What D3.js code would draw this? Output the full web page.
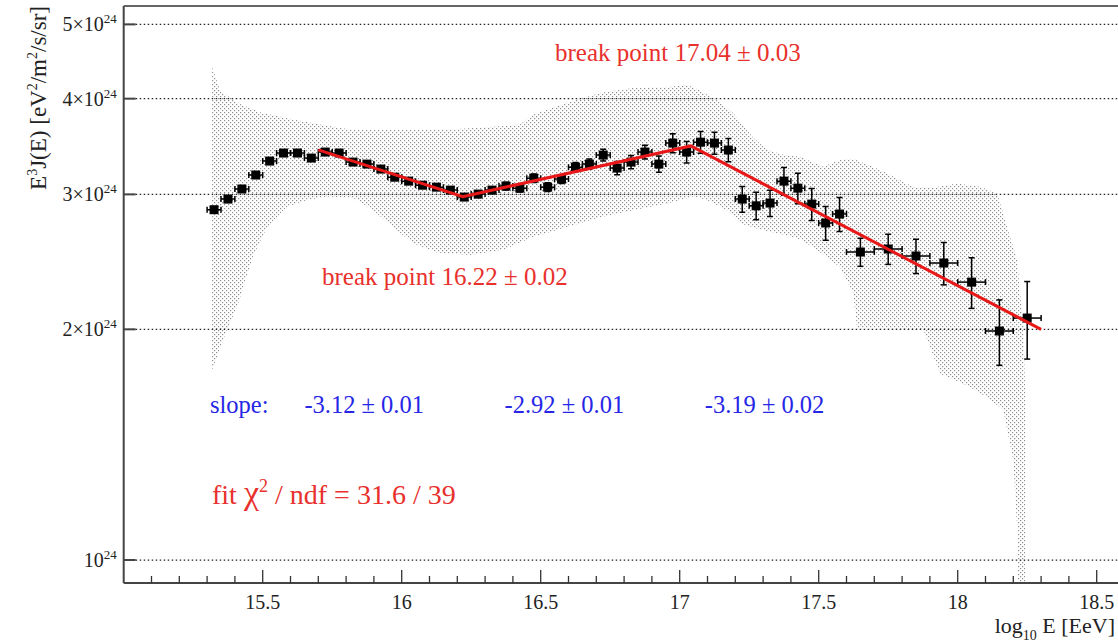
<!DOCTYPE html>
<html>
<head>
<meta charset="utf-8">
<script src="https://cdn.jsdelivr.net/npm/d3@7"></script>
<style>
  body { margin: 0; background: #fff; }
  text { font-family: "Liberation Serif", "DejaVu Serif", serif; }
</style>
</head>
<body>
<svg id="chart" width="1118" height="643"></svg>
<script>
// ====== Energy spectrum E^3 J(E) with broken power-law fit ======
// flux values are in units of 1e24 eV^2 m^-2 s^-1 sr^-1

const logE = [15.325, 15.375, 15.425, 15.475, 15.525, 15.575, 15.625, 15.675, 15.725, 15.775,
              15.825, 15.875, 15.925, 15.975, 16.025, 16.075, 16.125, 16.175, 16.225, 16.275,
              16.325, 16.375, 16.425, 16.475, 16.525, 16.575, 16.625, 16.675, 16.725, 16.775,
              16.825, 16.875, 16.925, 16.975, 17.025, 17.075, 17.125, 17.175, 17.225, 17.275,
              17.325, 17.375, 17.425, 17.475, 17.525, 17.575,
              17.65, 17.75, 17.85, 17.95, 18.05, 18.15, 18.25];
const flux = [2.865, 2.958, 3.049, 3.180, 3.316, 3.397, 3.397, 3.346, 3.407, 3.397,
              3.306, 3.286, 3.237, 3.159, 3.122, 3.084, 3.066, 3.039, 2.976, 3.003,
              3.039, 3.076, 3.057, 3.150, 3.066, 3.141, 3.256, 3.286, 3.376, 3.247,
              3.306, 3.407, 3.286, 3.500, 3.407, 3.510, 3.500, 3.428, 2.958, 2.899,
              2.923, 3.122, 3.057, 2.914, 2.753, 2.828,
              2.523, 2.546, 2.493, 2.441, 2.305, 1.990, 2.069];
const fluxErr = [0.012, 0.012, 0.012, 0.012, 0.012, 0.012, 0.012, 0.012, 0.012, 0.012,
                 0.015, 0.015, 0.015, 0.015, 0.02, 0.02, 0.02, 0.025, 0.025, 0.03,
                 0.03, 0.035, 0.035, 0.04, 0.04, 0.04, 0.045, 0.05, 0.06, 0.065,
                 0.065, 0.07, 0.08, 0.10, 0.11, 0.115, 0.115, 0.12, 0.115, 0.12,
                 0.115, 0.13, 0.14, 0.14, 0.14, 0.145,
                 0.106, 0.115, 0.128, 0.155, 0.175, 0.195, 0.24];
const logEErr = [0.025, 0.025, 0.025, 0.025, 0.025, 0.025, 0.025, 0.025, 0.025, 0.025,
                 0.025, 0.025, 0.025, 0.025, 0.025, 0.025, 0.025, 0.025, 0.025, 0.025,
                 0.025, 0.025, 0.025, 0.025, 0.025, 0.025, 0.025, 0.025, 0.025, 0.025,
                 0.025, 0.025, 0.025, 0.025, 0.025, 0.025, 0.025, 0.025, 0.025, 0.025,
                 0.025, 0.025, 0.025, 0.025, 0.025, 0.025,
                 0.05, 0.05, 0.05, 0.05, 0.05, 0.05, 0.05];

// broken power-law fit (nodes at start, break points, end)
const fitX = [15.70, 16.22, 17.04, 18.30];
const fitY = [3.43, 2.98, 3.47, 2.00];

// systematic uncertainty band
const bandUpX = [15.318, 15.347, 15.408, 15.49, 15.587, 15.706, 15.825, 15.947, 16.066, 16.185,
                 16.307, 16.426, 16.472, 16.595, 16.714, 16.832, 16.955, 17.026, 17.073, 17.134,
                 17.192, 17.264, 17.314, 17.372, 17.433, 17.516, 17.577, 17.624, 17.72, 17.839,
                 17.911, 17.998, 18.081, 18.142, 18.178, 18.214, 18.236, 18.243, 18.243];
const bandUpY = [4.40, 4.10, 3.95, 3.84, 3.77, 3.70, 3.64, 3.64, 3.64, 3.65,
                 3.67, 3.70, 3.81, 3.95, 4.07, 4.13, 4.14, 4.17, 4.10, 3.98,
                 3.83, 3.56, 3.43, 3.38, 3.36, 3.26, 3.33, 3.34, 3.23, 3.07,
                 3.06, 3.10, 3.07, 3.01, 2.72, 2.46, 2.01, 1.65, 0.90];
const bandLoX = [15.318, 15.372, 15.408, 15.465, 15.516, 15.587, 15.66, 15.732, 15.825, 15.897,
                 15.969, 16.041, 16.127, 16.246, 16.365, 16.472, 16.595, 16.714, 16.832, 16.955,
                 17.048, 17.098, 17.17, 17.217, 17.289, 17.372, 17.433, 17.48, 17.577, 17.624,
                 17.638, 17.876, 17.937, 18.034, 18.106, 18.164, 18.2, 18.214, 18.218];
const bandLoY = [1.77, 2.00, 2.14, 2.49, 2.72, 2.89, 2.95, 2.98, 2.97, 2.86,
                 2.72, 2.59, 2.52, 2.50, 2.54, 2.64, 2.72, 2.80, 2.86, 2.92,
                 2.98, 2.95, 2.86, 2.75, 2.70, 2.66, 2.62, 2.56, 2.41, 2.23,
                 2.01, 2.00, 1.75, 1.69, 1.63, 1.57, 1.35, 1.10, 0.90];

const yTicks = [1, 2, 3, 4, 5];
const yTickMult = ["", "2×", "3×", "4×", "5×"];
const xTicks = [15.5, 16, 16.5, 17, 17.5, 18, 18.5];

const slopeTexts = ["-3.12 ± 0.01", "-2.92 ± 0.01", "-3.19 ± 0.02"];
const slopePos = [15.65, 16.37, 17.09];   // log E where each slope label starts

const plotLeft = 123.7, plotTop = 6, plotBottom = 583;

let x = d3.scaleLinear().domain([15, 18.6]).range([plotLeft, 1124.5]);
let y = d3.scaleLog().domain([0.9333, 5.284]).range([plotBottom, plotTop]);

let svg = d3.select("#chart");
let defs = svg.append("defs");

defs.append("clipPath").attr("id", "plotclip")
    .append("rect")
    .attr("x", plotLeft).attr("y", plotTop)
    .attr("width", 1118 - plotLeft).attr("height", plotBottom - plotTop);

let pat = defs.append("pattern")
    .attr("id", "dots")
    .attr("width", 4).attr("height", 4)
    .attr("patternUnits", "userSpaceOnUse");
pat.append("rect").attr("x", 0).attr("y", 0).attr("width", 1.2).attr("height", 1.2).attr("fill", "#8c8c8c");
pat.append("rect").attr("x", 2).attr("y", 2).attr("width", 1.2).attr("height", 1.2).attr("fill", "#8c8c8c");

let plot = svg.append("g").attr("clip-path", "url(#plotclip)");

// band
let bandPts = bandUpX.map((d, i) => [x(d), y(bandUpY[i])])
    .concat(bandLoX.map((d, i) => [x(d), y(bandLoY[i])]).reverse());
plot.append("path")
    .attr("d", d3.line()(bandPts) + "Z")
    .attr("fill", "url(#dots)")
    .attr("stroke", "none");

// horizontal dotted gridlines
plot.selectAll(".grid")
    .data(yTicks)
    .enter().append("line")
    .attr("class", "grid")
    .attr("x1", plotLeft).attr("x2", 1118)
    .attr("y1", d => y(d)).attr("y2", d => y(d))
    .attr("stroke", "#222")
    .attr("stroke-width", 1.3)
    .attr("stroke-dasharray", "1.5,2.5");

// error bars
let pts = logE.map((d, i) => ({ e: d, v: flux[i], ev: fluxErr[i], ee: logEErr[i] }));
let eb = plot.append("g").attr("stroke", "#000").attr("stroke-width", 1.5);
pts.forEach(function(d) {
    let cx = x(d.e), cy = y(d.v);
    let y1 = y(d.v + d.ev), y2 = y(d.v - d.ev);
    let x1 = x(d.e - d.ee), x2 = x(d.e + d.ee);
    eb.append("line").attr("x1", cx).attr("x2", cx).attr("y1", y1).attr("y2", y2);
    eb.append("line").attr("x1", cx - 3).attr("x2", cx + 3).attr("y1", y1).attr("y2", y1);
    eb.append("line").attr("x1", cx - 3).attr("x2", cx + 3).attr("y1", y2).attr("y2", y2);
    eb.append("line").attr("x1", x1).attr("x2", x2).attr("y1", cy).attr("y2", cy);
    eb.append("line").attr("x1", x1).attr("x2", x1).attr("y1", cy - 3).attr("y2", cy + 3);
    eb.append("line").attr("x1", x2).attr("x2", x2).attr("y1", cy - 3).attr("y2", cy + 3);
});

// markers
plot.selectAll(".marker")
    .data(pts)
    .enter().append("rect")
    .attr("class", "marker")
    .attr("x", d => x(d.e) - 4.5)
    .attr("y", d => y(d.v) - 4.5)
    .attr("width", 9).attr("height", 9)
    .attr("fill", "#000");

// fit line
plot.append("path")
    .attr("d", d3.line()(fitX.map((d, i) => [x(d), y(fitY[i])])))
    .attr("fill", "none")
    .attr("stroke", "#e81818")
    .attr("stroke-width", 3);

// frame
svg.append("line").attr("x1", plotLeft).attr("x2", 1118).attr("y1", plotTop).attr("y2", plotTop)
    .attr("stroke", "#666").attr("stroke-width", 2);
svg.append("line").attr("x1", plotLeft).attr("x2", plotLeft).attr("y1", plotTop).attr("y2", plotBottom)
    .attr("stroke", "#444").attr("stroke-width", 2);
svg.append("line").attr("x1", plotLeft).attr("x2", 1118).attr("y1", plotBottom).attr("y2", plotBottom)
    .attr("stroke", "#444").attr("stroke-width", 2);

// y ticks and labels
svg.selectAll(".ytick")
    .data(yTicks)
    .enter().append("line")
    .attr("x1", plotLeft).attr("x2", plotLeft + 12)
    .attr("y1", d => y(d)).attr("y2", d => y(d))
    .attr("stroke", "#444").attr("stroke-width", 2);

let ylab = svg.selectAll(".ylab")
    .data(yTicks)
    .enter().append("text")
    .attr("x", plotLeft - 7)
    .attr("y", d => y(d) + 7)
    .attr("text-anchor", "end")
    .attr("font-size", 20)
    .attr("fill", "#222");
ylab.append("tspan").text((d, i) => yTickMult[i] + "10");
ylab.append("tspan").attr("dy", -8).attr("font-size", 13).text("24");

// x ticks
let minor = d3.range(151, 186).map(d => d / 10);
svg.selectAll(".xminor")
    .data(minor)
    .enter().append("line")
    .attr("x1", d => x(d)).attr("x2", d => x(d))
    .attr("y1", plotBottom).attr("y2", d => (Math.round(d * 10) % 5 === 0) ? plotBottom - 13 : plotBottom - 7)
    .attr("stroke", "#333").attr("stroke-width", 1.3);

svg.selectAll(".xlab")
    .data(xTicks)
    .enter().append("text")
    .attr("x", d => x(d))
    .attr("y", 609)
    .attr("text-anchor", "middle")
    .attr("font-size", 20)
    .attr("fill", "#222")
    .text(d => d);

// axis titles
let xt = svg.append("text")
    .attr("x", 1115).attr("y", 633)
    .attr("text-anchor", "end")
    .attr("font-size", 22)
    .attr("fill", "#222");
xt.append("tspan").text("log");
xt.append("tspan").attr("dy", 7).attr("font-size", 14).text("10");
xt.append("tspan").attr("dy", -7).text(" E [EeV]");

let yt = svg.append("text")
    .attr("transform", "translate(46,6) rotate(-90)")
    .attr("text-anchor", "end")
    .attr("font-size", 23)
    .attr("fill", "#222");
yt.append("tspan").text("E");
yt.append("tspan").attr("dy", -9).attr("font-size", 14).text("3");
yt.append("tspan").attr("dy", 9).text("J(E) [eV");
yt.append("tspan").attr("dy", -9).attr("font-size", 14).text("2");
yt.append("tspan").attr("dy", 9).text("/m");
yt.append("tspan").attr("dy", -9).attr("font-size", 14).text("2");
yt.append("tspan").attr("dy", 9).text("/s/sr]");

// annotations
const red = "#e8302c", blue = "#2626e6";
svg.append("text").attr("x", 555).attr("y", 61)
    .attr("font-size", 25).attr("fill", red)
    .text("break point 17.04 ± 0.03");
svg.append("text").attr("x", 322).attr("y", 285)
    .attr("font-size", 25).attr("fill", red)
    .text("break point 16.22 ± 0.02");

svg.append("text").attr("x", 210).attr("y", 413)
    .attr("font-size", 24.5).attr("fill", blue)
    .text("slope:");
svg.selectAll(".slope")
    .data(slopeTexts)
    .enter().append("text")
    .attr("x", (d, i) => x(slopePos[i]))
    .attr("y", 413)
    .attr("font-size", 24.5).attr("fill", blue)
    .text(d => d);

let chi = svg.append("text").attr("x", 212).attr("y", 504)
    .attr("font-size", 28).attr("fill", red);
chi.append("tspan").text("fit ");
chi.append("tspan").attr("font-size", 34).text("χ");
chi.append("tspan").attr("dy", -12).attr("font-size", 18).text("2");
chi.append("tspan").attr("dy", 12).text(" / ndf = 31.6 / 39");
</script>
</body>
</html>
